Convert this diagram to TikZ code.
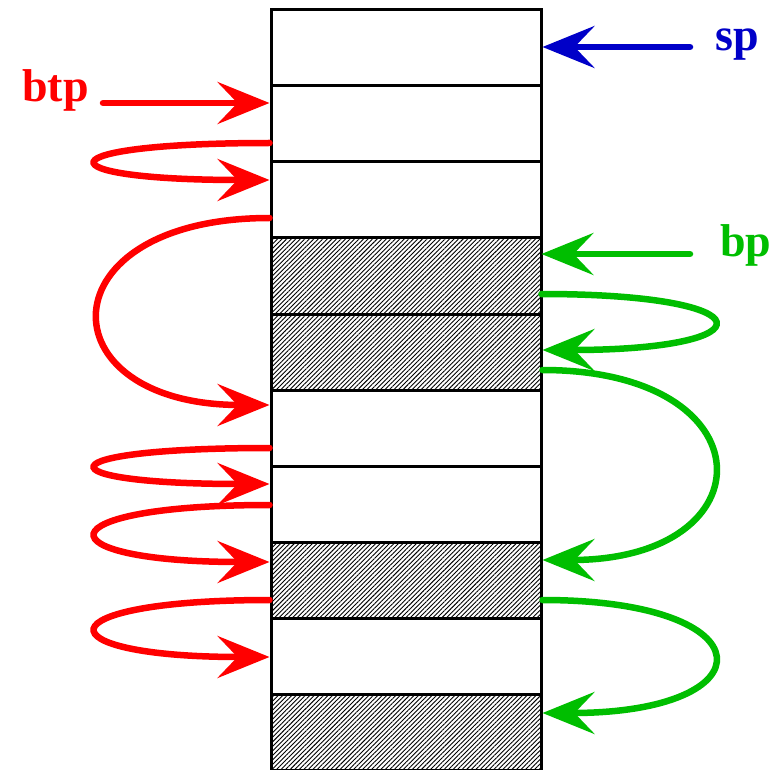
\documentclass[tikz,border=0pt]{standalone}
\usepackage{fontspec}
\setmainfont{Liberation Serif}
\usetikzlibrary{arrows.meta,patterns.meta}
\definecolor{rd}{RGB}{255,0,0}
\definecolor{gn}{RGB}{0,190,0}
\definecolor{bl}{RGB}{0,0,200}
\tikzset{
  cell/.style={draw=black,line width=3pt,minimum width=270pt,minimum height=76pt,inner sep=0pt,fill=white},
  hcell/.style={cell,pattern={Lines[angle=45,distance=3.2pt,line width=0.9pt]}},
  ptr/.style={line width=6.5pt,line cap=round,-{Stealth[length=52pt,width=42pt,inset=20pt]}},
  lbl/.style={font=\fontsize{46}{50}\selectfont\bfseries,inner sep=0pt,anchor=base west}
}
\begin{document}
\begin{tikzpicture}[x=1pt,y=-1pt]
\useasboundingbox (0,0) rectangle (779,770);
\fill[white] (0,0) rectangle (779,770);
% cells
\node[cell]  (c1)  at (406,48)  {};
\node[cell]  (c2)  at (406,124) {};
\node[cell]  (c3)  at (406,200) {};
\node[hcell] (c4)  at (406,276) {};
\node[hcell] (c5)  at (406,352) {};
\node[cell]  (c6)  at (406,428) {};
\node[cell]  (c7)  at (406,504) {};
\node[hcell] (c8)  at (406,580) {};
\node[cell]  (c9)  at (406,656) {};
\node[hcell] (c10) at (406,732) {};
% labels
\node[lbl,text=rd] (btp) at (22,102) {btp};
\node[lbl,text=bl] (sp)  at (715,51) {sp};
\node[lbl,text=gn] (bp)  at (720,256) {bp};
% anchor points
\coordinate (btps) at (103,103);
\coordinate (sps) at (690,47);
\coordinate (bps) at (690,254);
% pointers
\draw[ptr,rd] (btps) -- (c2.north west |- btps);
\draw[ptr,bl] (sps) -- (c1.east |- sps);
\draw[ptr,gn] (bps) -- (c4.east |- bps);
% red loops
\draw[ptr,rd] (c2.west |- 0,143) .. controls (40,143) and (40,180) .. (c3.west |- 0,180);
\draw[ptr,rd] (c3.west |- 0,218) .. controls (43,218) and (43,405) .. (c6.west |- 0,405);
\draw[ptr,rd] (c6.west |- 0,448) .. controls (40,448) and (40,484) .. (c7.west |- 0,484);
\draw[ptr,rd] (c7.west |- 0,505) .. controls (40,505) and (40,562) .. (c8.west |- 0,562);
\draw[ptr,rd] (c8.west |- 0,600) .. controls (40,600) and (40,657) .. (c9.west |- 0,657);
% green loops
\draw[ptr,gn] (c4.east |- 0,294) .. controls (770,294) and (770,350) .. (c5.east |- 0,350);
\draw[ptr,gn] (c5.east |- 0,370) .. controls (770,370) and (770,560) .. (c8.east |- 0,560);
\draw[ptr,gn] (c8.east |- 0,600) .. controls (770,600) and (770,713) .. (c10.east |- 0,713);
\end{tikzpicture}
\end{document}
